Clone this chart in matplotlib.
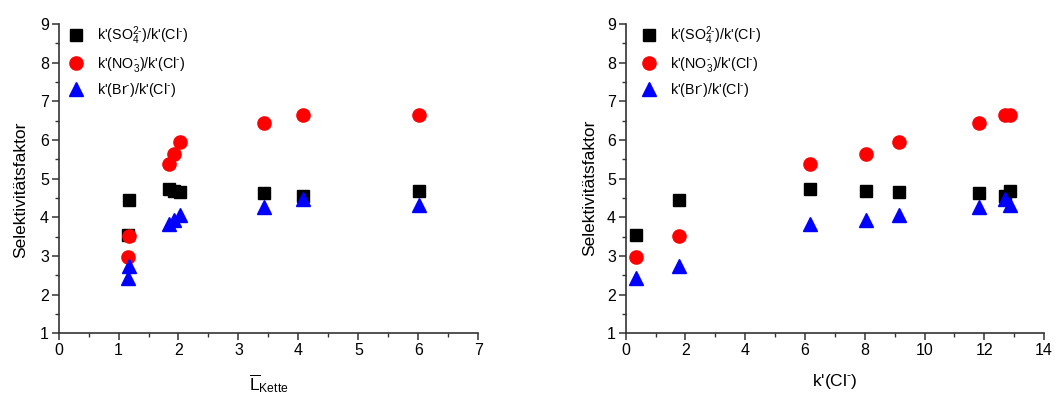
import matplotlib
matplotlib.use("Agg")
import matplotlib.pyplot as plt
from matplotlib.ticker import MultipleLocator

plt.rcParams['font.family'] = ['Liberation Sans', 'DejaVu Sans']
plt.rcParams['mathtext.fontset'] = 'custom'
plt.rcParams['mathtext.rm'] = 'Liberation Sans'
plt.rcParams['mathtext.it'] = 'Liberation Sans'
plt.rcParams['mathtext.bf'] = 'Liberation Sans:bold'

# Data
l_kette = [1.15, 1.17, 1.84, 1.92, 2.02, 3.43, 4.08, 6.01]
k_cl = [0.33, 1.77, 6.17, 8.05, 9.14, 11.81, 12.69, 12.87]
sel_so4 = [3.55, 4.46, 4.74, 4.69, 4.66, 4.62, 4.54, 4.68]
sel_no3 = [2.98, 3.51, 5.37, 5.63, 5.96, 6.44, 6.66, 6.65]
sel_br = [2.42, 2.75, 3.82, 3.92, 4.06, 4.27, 4.48, 4.33]

labels = [r"k'(SO$_4^{2\text{-}}$)/k'(Cl$^{\text{-}}$)",
          r"k'(NO$_3^{\text{-}}$)/k'(Cl$^{\text{-}}$)",
          r"k'(Br$^{\text{-}}$)/k'(Cl$^{\text{-}}$)"]

fig = plt.figure(figsize=(10.55, 3.94), dpi=100)
ax1 = fig.add_axes([0.0555, 0.154, 0.3979, 0.785])
ax2 = fig.add_axes([0.5931, 0.154, 0.3965, 0.785])

def draw(ax, x, xlim, xmaj, xmin, xlabel, legx, ylab_x, ylab_y):
    ax.plot(x, sel_so4, linestyle='none', marker='s', color='black', markersize=8.5, label=labels[0])
    ax.plot(x, sel_no3, linestyle='none', marker='o', color='#ff0000', markersize=9.5, label=labels[1])
    ax.plot(x, sel_br, linestyle='none', marker='^', color='#0000ff', markersize=10.5, label=labels[2])
    ax.set_xlim(*xlim)
    ax.set_ylim(1, 9)
    ax.xaxis.set_major_locator(MultipleLocator(xmaj))
    ax.xaxis.set_minor_locator(MultipleLocator(xmin))
    ax.yaxis.set_major_locator(MultipleLocator(1))
    ax.yaxis.set_minor_locator(MultipleLocator(0.5))
    for s in ['top', 'right']:
        ax.spines[s].set_visible(False)
    for s in ['left', 'bottom']:
        ax.spines[s].set_linewidth(1.2)
        ax.spines[s].set_color('#333333')
    ax.tick_params(which='major', direction='out', length=5, width=1.1, labelsize=11.5, color='#333333', pad=2)
    ax.tick_params(which='minor', direction='out', length=3, width=1.0, color='#333333')
    ax.set_ylabel('Selektivitätsfaktor', fontsize=12.5)
    ax.yaxis.set_label_coords(ylab_x, ylab_y)
    ax.set_xlabel(xlabel, fontsize=12.5, labelpad=10)
    ax.legend(loc='upper left', bbox_to_anchor=(legx, 1.03), frameon=False, fontsize=10.3,
              handletextpad=0.68, labelspacing=0.5, borderaxespad=0.3, handlelength=1.5)

draw(ax1, l_kette, (0, 7), 1, 0.5, r"$\overline{\mathrm{L}}_{\mathrm{Kette}}$", -0.007, -0.072, 0.463)
draw(ax2, k_cl, (0, 14), 2, 1, r"k'(Cl$^{\text{-}}$)", 0.007, -0.069, 0.469)

fig.savefig('out.png', dpi=100)
